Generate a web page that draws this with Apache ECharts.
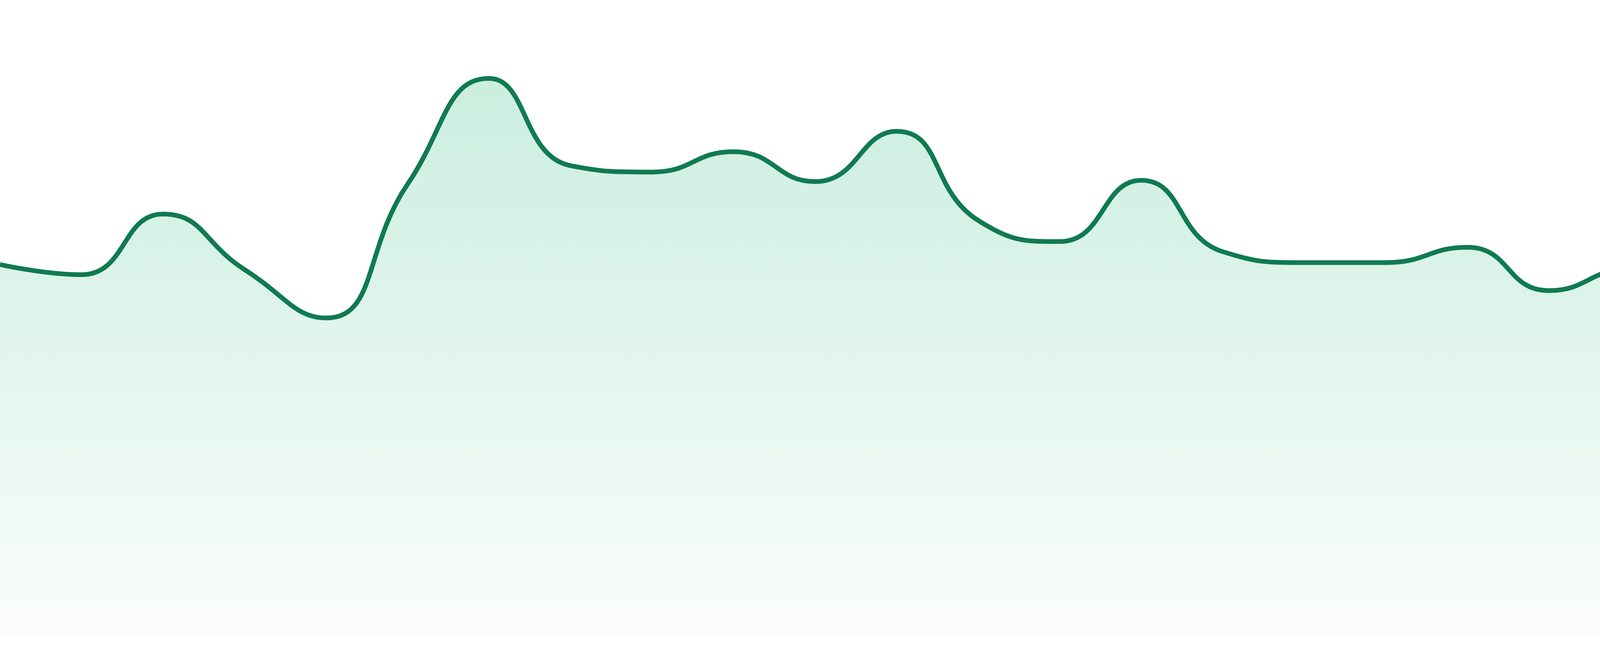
<!DOCTYPE html>
<html lang="en">
<head>
    <meta charset="UTF-8">
    <title>Area trend</title>
    <script src="https://cdnjs.cloudflare.com/ajax/libs/echarts/6.0.0/echarts.min.js"></script>
    <style>
        html, body { margin: 0; padding: 0; background: #ffffff; overflow: hidden; }
        #chart { width: 4800px; height: 1680px; }
    </style>
</head>
<body>
    <div id="chart"></div>
    <script>
        // 24 hourly points, axes are hidden in the picture
        const hours = ['00:00', '01:00', '02:00', '03:00', '04:00', '05:00', '06:00', '07:00',
            '08:00', '09:00', '10:00', '11:00', '12:00', '13:00', '14:00', '15:00',
            '16:00', '17:00', '18:00', '19:00', '20:00', '21:00', '22:00', '23:00'];
        const values = [58.5, 56.9, 66.4, 57.7, 50.1, 71.1, 87.7, 74.0,
            73.0, 76.2, 71.5, 79.4, 65.4, 62.1, 71.7, 60.5,
            58.8, 58.8, 61.2, 54.4, 57.8, 55.3, 46.4, 48.6];
        const yMin = 0;
        const yMax = 100;

        let chart = echarts.init(document.getElementById('chart'));
        chart.setOption({
            animation: false,
            grid: { left: 0, right: 0, top: 0, bottom: 48 },
            xAxis: {
                type: 'category',
                data: hours,
                boundaryGap: false,
                show: false
            },
            yAxis: {
                type: 'value',
                min: yMin,
                max: yMax,
                show: false
            },
            series: [{
                type: 'line',
                data: values,
                smooth: true,
                symbol: 'none',
                lineStyle: { color: '#107a50', width: 12 },
                areaStyle: {
                    // fade from the highest point down to the bottom of the grid
                    color: new echarts.graphic.LinearGradient(0, 200, 0, 1632, [
                        { offset: 0, color: '#b3e6d0' },
                        { offset: 1, color: '#f8fbfa' }
                    ], true)
                }
            }]
        });
    </script>
</body>
</html>
